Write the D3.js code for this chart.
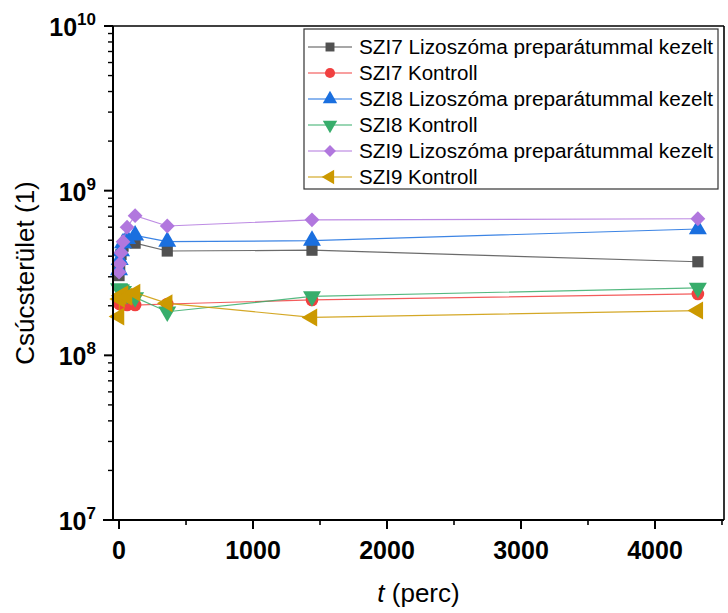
<!DOCTYPE html>
<html>
<head>
<meta charset="utf-8">
<title>Csúcsterület</title>
<script src="https://d3js.org/d3.v7.min.js"></script>
<style>
  body { margin: 0; background: #fff; }
  svg { font-family: "Liberation Sans", Arial, sans-serif; }
  .series-line { fill: none; stroke-width: 1.2px; stroke-opacity: 0.85; }
</style>
</head>
<body>
<svg width="728" height="613"></svg>
<script>
// time points (perc)
const times = [0, 5, 15, 30, 60, 120, 360, 1440, 4320];

const szi7Kezelt   = [3.05e8, 3.5e8, 4.1e8, 4.6e8, 5.0e8, 4.8e8, 4.3e8, 4.35e8, 3.7e8];
const szi7Kontroll = [2.07e8, 2.05e8, 2.1e8, 2.05e8, 2.02e8, 2.02e8, 2.05e8, 2.17e8, 2.36e8];
const szi8Kezelt   = [3.3e8, 3.8e8, 4.3e8, 4.8e8, 5.1e8, 5.35e8, 4.9e8, 4.97e8, 5.85e8];
const szi8Kontroll = [2.55e8, 2.52e8, 2.5e8, 2.45e8, 2.35e8, 2.25e8, 1.84e8, 2.28e8, 2.57e8];
const szi9Kezelt   = [3.2e8, 3.6e8, 4.2e8, 4.9e8, 6.0e8, 7.05e8, 6.1e8, 6.65e8, 6.75e8];
const szi9Kontroll = [1.72e8, 2.2e8, 2.3e8, 2.35e8, 2.27e8, 2.4e8, 2.07e8, 1.70e8, 1.87e8];

const seriesNames = [
  "SZI7 Lizoszóma preparátummal kezelt",
  "SZI7 Kontroll",
  "SZI8 Lizoszóma preparátummal kezelt",
  "SZI8 Kontroll",
  "SZI9 Lizoszóma preparátummal kezelt",
  "SZI9 Kontroll"
];
const seriesValues = [szi7Kezelt, szi7Kontroll, szi8Kezelt, szi8Kontroll, szi9Kezelt, szi9Kontroll];
const colors = ["#515151", "#F14040", "#1A6FDF", "#37AD6B", "#B177DE", "#CC9900"];
const shapes = ["square", "circle", "up", "down", "diamond", "left"];

const xTicks = [0, 1000, 2000, 3000, 4000];
const xMinor = [500, 1500, 2500, 3500, 4500];
const yExps = [7, 8, 9, 10];

var svg = d3.select("svg");
var margin = {top: 26, right: 4, bottom: 93, left: 113};
var width = 728 - margin.left - margin.right;
var height = 613 - margin.top - margin.bottom;

var x = d3.scaleLinear().domain([-45, 4515]).range([0, width]);
var y = d3.scaleLog().domain([1e7, 1e10]).range([height, 0]);

var g = svg.append("g").attr("transform", "translate(" + margin.left + "," + margin.top + ")");

// marker path
function marker(shape) {
  if (shape == "square") return d3.symbol().type(d3.symbolSquare).size(125)();
  if (shape == "circle") return d3.symbol().type(d3.symbolCircle).size(125)();
  if (shape == "diamond") return d3.symbol().type(d3.symbolSquare).size(110)();
  return d3.symbol().type(d3.symbolTriangle).size(140)();
}
function rot(shape) {
  if (shape == "diamond") return 45;
  if (shape == "down") return 180;
  if (shape == "left") return -90;
  return 0;
}

// lines + markers
seriesValues.forEach(function (vals, i) {
  var pts = times.map(function (t, j) { return [t, vals[j]]; });
  g.append("path")
    .datum(pts)
    .attr("class", "series-line")
    .attr("stroke", colors[i])
    .attr("d", d3.line().x(d => x(d[0])).y(d => y(d[1])));
  g.selectAll(".m" + i)
    .data(pts)
    .enter()
    .append("path")
    .attr("class", "m" + i)
    .attr("d", marker(shapes[i]))
    .attr("fill", colors[i])
    .attr("transform", d => "translate(" + x(d[0]) + "," + y(d[1]) + ") rotate(" + rot(shapes[i]) + ")");
});

// frame
g.append("line").attr("x1", 0).attr("x2", width).attr("y1", 0).attr("y2", 0)
  .attr("stroke", "#000").attr("stroke-width", 1.6);
g.append("line").attr("x1", width).attr("x2", width).attr("y1", 0).attr("y2", height)
  .attr("stroke", "#000").attr("stroke-width", 1.6);

// x axis
var xAxis = g.append("g").attr("transform", "translate(0," + height + ")");
xAxis.append("line").attr("x1", -10).attr("x2", width).attr("stroke", "#000").attr("stroke-width", 2);
xAxis.selectAll(".xt").data(xTicks).enter().append("line")
  .attr("x1", d => x(d)).attr("x2", d => x(d)).attr("y1", 0).attr("y2", 9)
  .attr("stroke", "#000").attr("stroke-width", 2);
xAxis.selectAll(".xm").data(xMinor).enter().append("line")
  .attr("x1", d => x(d)).attr("x2", d => x(d)).attr("y1", 0).attr("y2", 5)
  .attr("stroke", "#000").attr("stroke-width", 1.6);
xAxis.selectAll(".xl").data(xTicks).enter().append("text")
  .attr("x", d => x(d)).attr("y", 39)
  .attr("text-anchor", "middle")
  .attr("font-size", "25px").attr("font-weight", "bold")
  .text(d => d);

// y axis
var yAxis = g.append("g");
yAxis.append("line").attr("y1", 0).attr("y2", height + 1).attr("stroke", "#000").attr("stroke-width", 2);
var yMinor = [];
[7, 8, 9].forEach(function (e) {
  for (var k = 2; k <= 9; k++) yMinor.push(k * Math.pow(10, e));
});
yAxis.selectAll(".ym").data(yMinor).enter().append("line")
  .attr("x1", -5).attr("x2", 0).attr("y1", d => y(d)).attr("y2", d => y(d))
  .attr("stroke", "#000").attr("stroke-width", 1.4);
yAxis.selectAll(".yt").data(yExps).enter().append("line")
  .attr("x1", -9).attr("x2", 0).attr("y1", d => y(Math.pow(10, d))).attr("y2", d => y(Math.pow(10, d)))
  .attr("stroke", "#000").attr("stroke-width", 2);
var yl = yAxis.selectAll(".yl").data(yExps).enter().append("text")
  .attr("x", -17).attr("y", d => y(Math.pow(10, d)) + 10)
  .attr("text-anchor", "end")
  .attr("font-size", "25px").attr("font-weight", "bold");
yl.append("tspan").text("10");
yl.append("tspan").attr("dy", -11).attr("font-size", "17px").text(d => d);

// axis titles
svg.append("text")
  .attr("x", margin.left + width / 2).attr("y", 602)
  .attr("text-anchor", "middle").attr("font-size", "26px")
  .html('<tspan font-style="italic">t</tspan> (perc)');
svg.append("text")
  .attr("transform", "translate(34," + (margin.top + height / 2) + ") rotate(-90)")
  .attr("text-anchor", "middle").attr("font-size", "26px")
  .text("Csúcsterület (1)");

// legend
var leg = svg.append("g").attr("transform", "translate(304,29)");
leg.append("rect").attr("width", 414).attr("height", 160)
  .attr("fill", "#fff").attr("stroke", "#333").attr("stroke-width", 1.2);
seriesNames.forEach(function (name, i) {
  var row = leg.append("g").attr("transform", "translate(0," + (18 + i * 26) + ")");
  row.append("line").attr("x1", 4).attr("x2", 48)
    .attr("stroke", colors[i]).attr("stroke-width", 1.2);
  row.append("path")
    .attr("d", marker(shapes[i]))
    .attr("fill", colors[i])
    .attr("transform", "translate(26,0) rotate(" + rot(shapes[i]) + ") scale(0.8)");
  row.append("text")
    .attr("x", 55).attr("y", 7)
    .attr("font-size", "20.5px")
    .attr("textLength", 354)
    .attr("lengthAdjust", "spacingAndGlyphs")
    .text(name)
    .attr("textLength", function () { return name.length > 20 ? 354 : null; });
});
</script>
</body>
</html>
